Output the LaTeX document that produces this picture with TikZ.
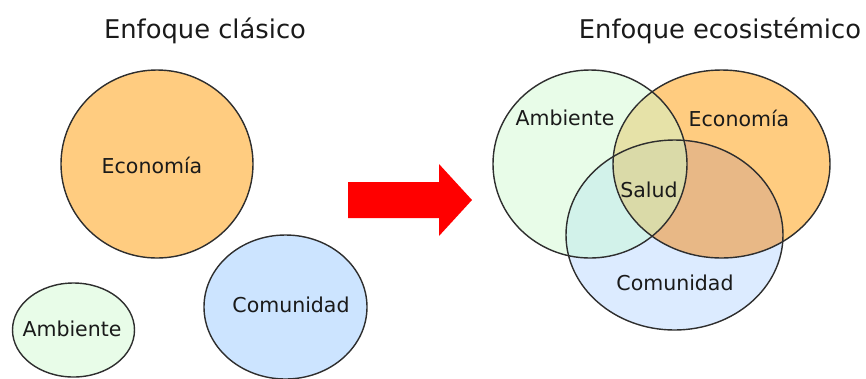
\documentclass[tikz,border=0pt]{standalone}
\usepackage{fontspec}
\setmainfont{DejaVu Sans}
\usepackage{xcolor}
\definecolor{rimgray}{HTML}{2E2E2E}
\definecolor{textgray}{HTML}{1A1A1A}
\definecolor{ecofill}{HTML}{FFCC80}
\definecolor{comfill}{HTML}{CCE4FF}
\definecolor{ambfill}{HTML}{E8FCE8}
\definecolor{comalone}{HTML}{DCEBFF}
\definecolor{ambecofill}{HTML}{E6E2A8}
\definecolor{ambcomfill}{HTML}{D2F2EA}
\definecolor{ecocomfill}{HTML}{E8B886}
\definecolor{allthree}{HTML}{DADAA8}
\definecolor{arrowred}{HTML}{FF0000}

\begin{document}
\begin{tikzpicture}[x=0.03cm, y=-0.03cm,
    rim/.style={draw=rimgray, line width=1.2pt},
    label/.style={text=textgray, font=\fontsize{17.5}{20}\selectfont, inner sep=0pt},
    title/.style={text=textgray, font=\fontsize{22}{26}\selectfont, inner sep=0pt}]
  \useasboundingbox (0,0) rectangle (866,378);
  % enfoque clasico
  \node[title] (titclas) at (205,31) {Enfoque clásico};
  \draw [rim, fill=ecofill] (157,164) ellipse (96 and 94);
  \draw [rim, fill=ambfill] (73.5,330) ellipse (61 and 47);
  \draw [rim, fill=comfill] (285.5,307) ellipse (81.5 and 72);
  \node[label] (ecoclas) at (152,165) {Economía};
  \node[label] (comclas) at (291,305) {Comunidad};
  \node[label] (ambclas) at (72,329) {Ambiente};
  % flecha
  \fill [arrowred] (348,182) -- (439,182) -- (439,164) -- (472,200)
    -- (439,236) -- (439,218) -- (348,218) -- cycle;
  % enfoque ecosistemico
  \node[title] (titeco) at (720,31) {Enfoque ecosistémico};
  \coordinate (ambc) at (590,164);
  \coordinate (ecoc) at (721.5,164);
  \coordinate (comc) at (674.5,235);
  \fill [ambfill] (ambc) ellipse (97 and 94);
  \fill [ecofill] (ecoc) ellipse (108.5 and 94);
  \begin{scope}
    \clip (ambc) ellipse (97 and 94);
    \fill [ambecofill] (ecoc) ellipse (108.5 and 94);
  \end{scope}
  \fill [comalone] (comc) ellipse (108.5 and 95);
  \begin{scope}
    \clip (comc) ellipse (108.5 and 95);
    \fill [ambcomfill] (ambc) ellipse (97 and 94);
    \fill [ecocomfill] (ecoc) ellipse (108.5 and 94);
    \clip (ambc) ellipse (97 and 94);
    \fill [allthree] (ecoc) ellipse (108.5 and 94);
  \end{scope}
  \draw [rim] (ambc) ellipse (97 and 94);
  \draw [rim] (ecoc) ellipse (108.5 and 94);
  \draw [rim] (comc) ellipse (108.5 and 95);
  \node[label] (ambeco) at (565,118) {Ambiente};
  \node[label] (ecoeco) at (739,118) {Economía};
  \node[label] (salud) at (649,190) {Salud};
  \node[label] (comeco) at (675,283) {Comunidad};
\end{tikzpicture}
\end{document}
